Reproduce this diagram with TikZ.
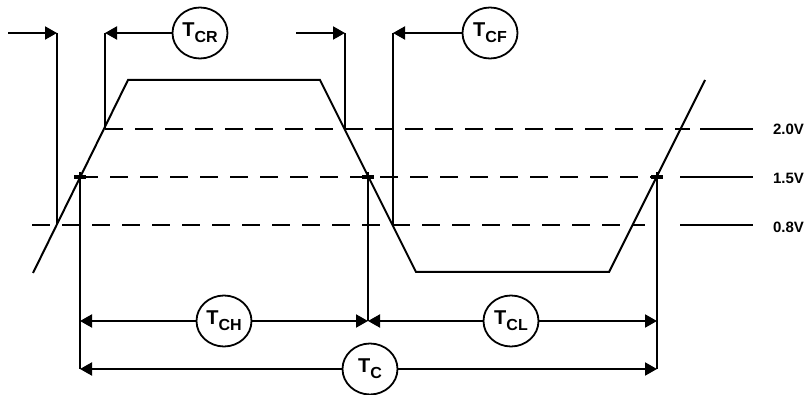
\documentclass[tikz,border=0pt]{standalone}
\usepackage{fontspec}
\setmainfont{Liberation Sans}
\usetikzlibrary{arrows.meta,shapes.geometric}
\newcommand\Tlab[1]{\bfseries\fontsize{20}{24}\selectfont T\raisebox{-6pt}{\fontsize{16}{18}\selectfont #1}}
\begin{document}
\begin{tikzpicture}[x=1pt,y=-1pt,line width=2pt,
  tip/.style={-{Triangle[length=12pt,width=13pt]}},
  lbl/.style={draw,ellipse,minimum width=55pt,minimum height=51pt,inner sep=0pt,line width=1.8pt,fill=white},
  lvl/.style={dash pattern=on 18pt off 12pt},
  volt/.style={font=\bfseries\fontsize{15}{18}\selectfont,anchor=west,inner sep=0pt},
  tick/.style={line width=3.5pt}]
\useasboundingbox (0,0) rectangle (808,395);

% threshold levels
\draw[lvl] (105,129) -- (690,129);
\draw[lvl] (80,177) -- (660,177);
\draw[lvl] (32,225) -- (645,225);
\draw (700,129) -- (753,129);
\draw (680,177) -- (753,177);
\draw (680,225) -- (753,225);
\node[volt] (v20) at (772,129) {2.0V};
\node[volt] (v15) at (772,178) {1.5V};
\node[volt] (v08) at (772,227) {0.8V};

% waveform
\draw[line join=miter] (33,273) -- (128,80) -- (320,80) -- (416,272) -- (609,272) -- (705,80);

% top measurement markers
\coordinate (a1s) at (8,33);   \coordinate (a1e) at (57,33);   \coordinate (a1b) at (57,225);
\coordinate (a2e) at (105,33); \coordinate (a2b) at (105,129);
\coordinate (a3s) at (296,33); \coordinate (a3e) at (345,33);  \coordinate (a3b) at (345,129);
\coordinate (a4e) at (393,33); \coordinate (a4b) at (393,225);
\node[lbl] (TCR) at (200,33) {\Tlab{CR}};
\node[lbl] (TCF) at (490,33) {\Tlab{CF}};
\draw[tip] (a1s) -- (a1e);
\draw (a1e) -- (a1b);
\draw[tip] (TCR) -- (a2e);
\draw (a2e) -- (a2b);
\draw[tip] (a3s) -- (a3e);
\draw (a3e) -- (a3b);
\draw[tip] (TCF) -- (a4e);
\draw (a4e) -- (a4b);

% bottom measurement markers
\coordinate (p1) at (80,172);  \coordinate (p2) at (368,172); \coordinate (p3) at (657,172);
\coordinate (h1) at (80,321);  \coordinate (h2) at (368,321); \coordinate (h3) at (657,321);
\coordinate (c1) at (80,369);  \coordinate (c3) at (657,369);
\draw[tick] (74,177) -- (86,177);
\draw[tick] (362,177) -- (374,177);
\draw[tick] (651,177) -- (663,177);
\draw (p1) -- (c1);
\draw (p2) -- (h2);
\draw (p3) -- (c3);
\node[lbl] (TCH) at (224,321) {\Tlab{CH}};
\node[lbl] (TCL) at (511,321) {\Tlab{CL}};
\node[lbl] (TC) at (370,369) {\Tlab{C}};
\draw[tip] (TCH) -- (h1);
\draw[tip] (TCH) -- (h2);
\draw[tip] (TCL) -- (h2);
\draw[tip] (TCL) -- (h3);
\draw[tip] (TC) -- (c1);
\draw[tip] (TC) -- (c3);
\end{tikzpicture}
\end{document}
